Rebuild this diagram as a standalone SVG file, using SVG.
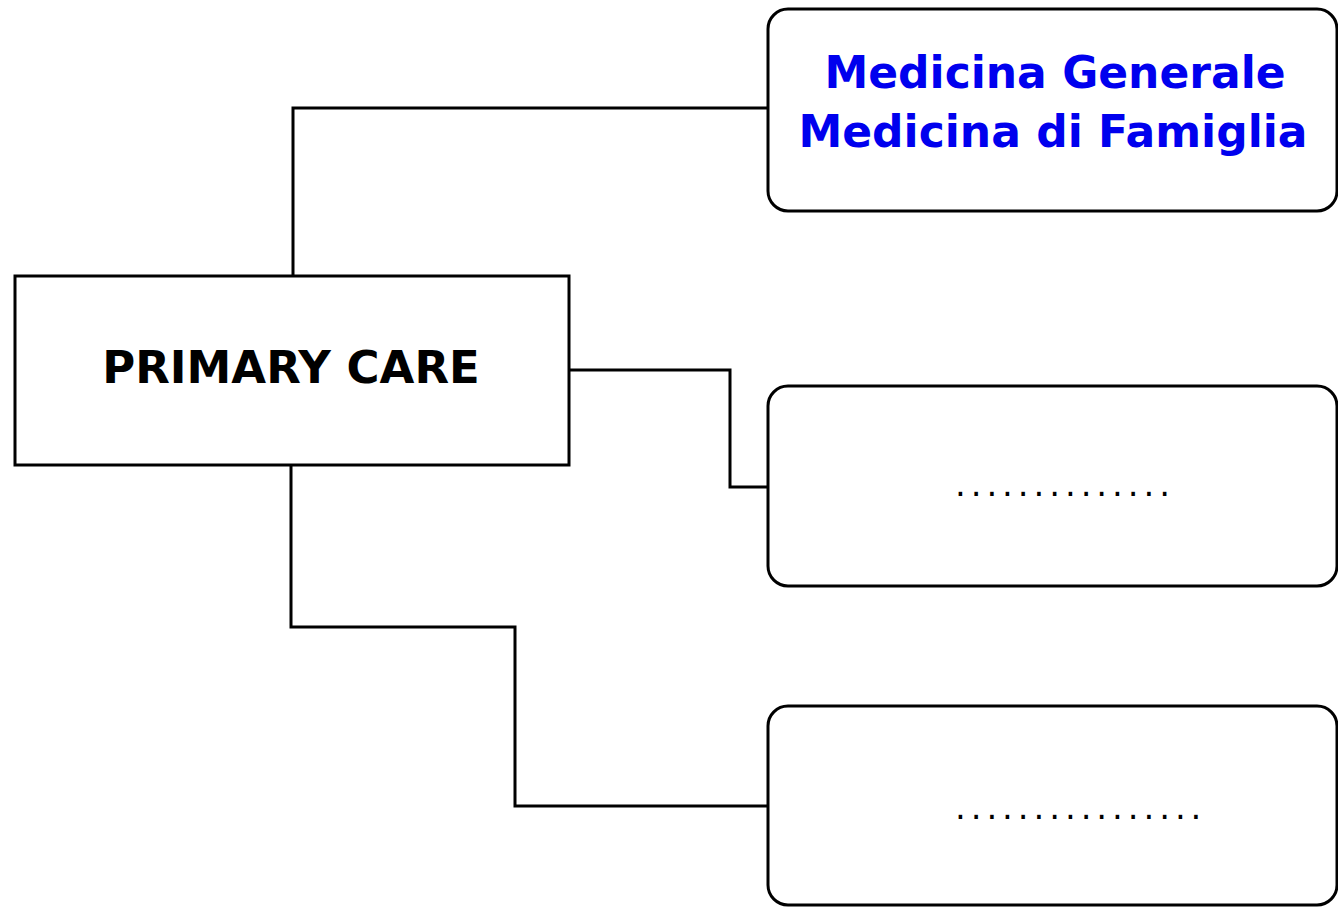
<svg xmlns="http://www.w3.org/2000/svg" width="1338" height="907" viewBox="0 0 1338 907">
<style>
.box{fill:#fff;stroke:#000;stroke-width:3}
.conn{fill:none;stroke:#000;stroke-width:3}
.t{font-family:"DejaVu Sans",Verdana,sans-serif;font-weight:bold;text-anchor:middle}
.dots{font-family:"DejaVu Sans",Verdana,sans-serif;font-size:34px;letter-spacing:4.9px;fill:#000}
</style>
<rect width="1338" height="907" fill="#fff"/>
<g id="connectors">
<path class="conn" d="M293,276 V108 H768"/>
<path class="conn" d="M569,370 H730 V487 H768"/>
<path class="conn" d="M291,465 V627 H515 V806 H768"/>
</g>
<g id="primary-care">
<rect class="box" x="15" y="276" width="554" height="189"/>
<text class="t" x="291" y="383" font-size="45" fill="#000">PRIMARY CARE</text>
</g>
<g id="medicina">
<rect class="box" x="768" y="9" width="569" height="202" rx="20" ry="20"/>
<text class="t" x="1055" y="88" font-size="44" fill="#0000ee">Medicina Generale</text>
<text class="t" x="1053" y="147" font-size="44" fill="#0000ee">Medicina di Famiglia</text>
</g>
<g id="box2">
<rect class="box" x="768" y="386" width="569" height="200" rx="20" ry="20"/>
<text class="dots" x="955" y="496">..............</text>
</g>
<g id="box3">
<rect class="box" x="768" y="706" width="569" height="199" rx="20" ry="20"/>
<text class="dots" x="955" y="819">................</text>
</g>
</svg>
